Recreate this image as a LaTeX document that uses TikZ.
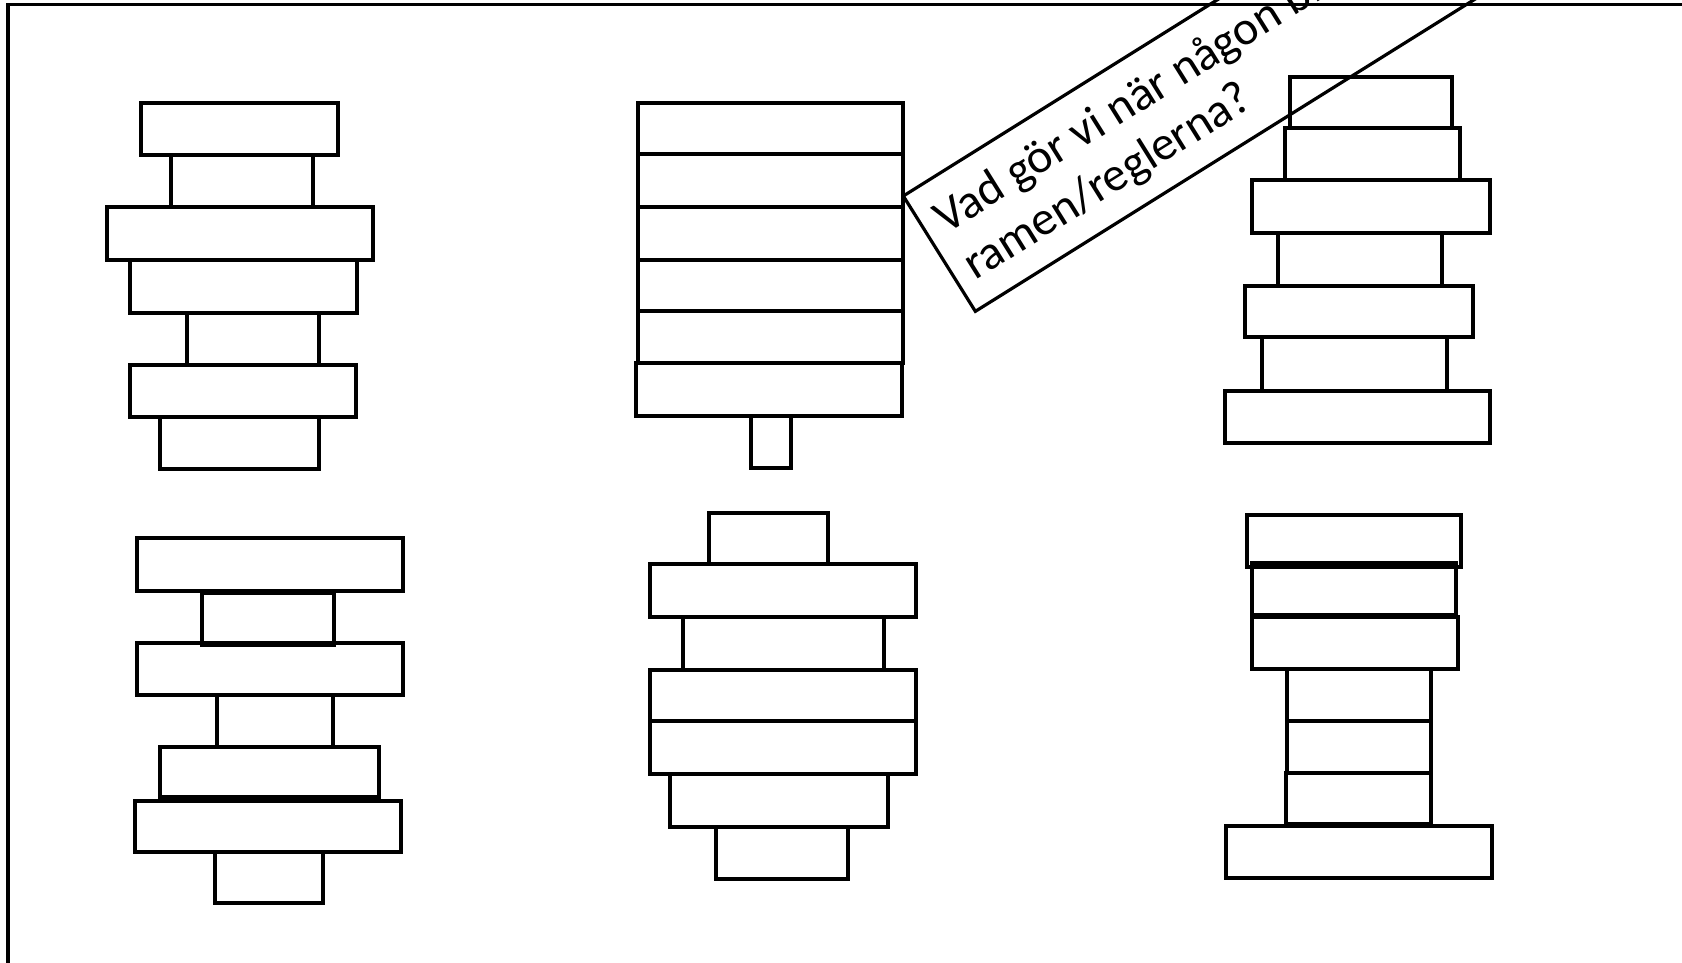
\documentclass[tikz,border=0pt]{standalone}
\usepackage{fontspec}
\setmainfont{Carlito}
\begin{document}
\begin{tikzpicture}[x=1pt,y=-1pt,
  blk/.style={draw=black,line width=3.2pt},
  frm/.style={draw=black,line width=3.2pt},
  qtxt/.style={anchor=base west,inner sep=0pt,rotate=32,font=\fontsize{48}{56}\selectfont}]
\useasboundingbox (0,0) rectangle (1682,962);
\clip (0,0) rectangle (1682,962);
% outer frame
\draw[frm] (8,1000) -- (8,4.5) -- (1700,4.5);
% stack 1
\draw[blk] (141,103) rectangle (338,155);
\draw[blk] (171,155) rectangle (313,207);
\draw[blk] (107,207) rectangle (373,260);
\draw[blk] (130,260) rectangle (357,313);
\draw[blk] (187,313) rectangle (319,365);
\draw[blk] (130,365) rectangle (356,417);
\draw[blk] (160,417) rectangle (319,469);
% stack 2
\draw[blk] (638,103) rectangle (903,154);
\draw[blk] (638,154) rectangle (903,207);
\draw[blk] (638,207) rectangle (903,260);
\draw[blk] (638,260) rectangle (903,311);
\draw[blk] (638,311) rectangle (903,363);
\draw[blk] (636,363) rectangle (902,416);
\draw[blk] (751,416) rectangle (791,468);
% stack 3
\draw[blk] (1290,77) rectangle (1452,128);
\draw[blk] (1285,128) rectangle (1460,180);
\draw[blk] (1252,180) rectangle (1490,233);
\draw[blk] (1278,233) rectangle (1442,286);
\draw[blk] (1245,286) rectangle (1473,337);
\draw[blk] (1262,337) rectangle (1447,391);
\draw[blk] (1225,391) rectangle (1490,443);
% stack 4
\draw[blk] (137,538) rectangle (403,591);
\draw[blk] (202,593) rectangle (334,645);
\draw[blk] (137,643) rectangle (403,695);
\draw[blk] (217,695) rectangle (333,747);
\draw[blk] (160,747) rectangle (379,797);
\draw[blk] (135,801) rectangle (401,852);
\draw[blk] (215,852) rectangle (323,903);
% stack 5
\draw[blk] (709,513) rectangle (828,564);
\draw[blk] (650,564) rectangle (916,617);
\draw[blk] (683,617) rectangle (884,670);
\draw[blk] (650,670) rectangle (916,721);
\draw[blk] (650,721) rectangle (916,774);
\draw[blk] (670,774) rectangle (888,827);
\draw[blk] (716,827) rectangle (848,879);
% stack 6
\draw[blk] (1247,515) rectangle (1461,567);
\draw[blk] (1252,563) rectangle (1456,615);
\draw[blk] (1252,617) rectangle (1458,669);
\draw[blk] (1287,669) rectangle (1431,721);
\draw[blk] (1287,721) rectangle (1431,773);
\draw[blk] (1286,773) rectangle (1431,824);
\draw[blk] (1226,826) rectangle (1492,878);
% rotated question box
\begin{scope}[shift={(903.3,196)},rotate=32]
  \draw[frm,line join=miter] (1200,0) -- (0,0) -- (0,136) -- (1200,136);
  \node[qtxt] (q1) at (16,55) {Vad gör vi när någon bryter mot};
  \node[qtxt] (q2) at (16,110) {ramen/reglerna?};
\end{scope}
\end{tikzpicture}
\end{document}
